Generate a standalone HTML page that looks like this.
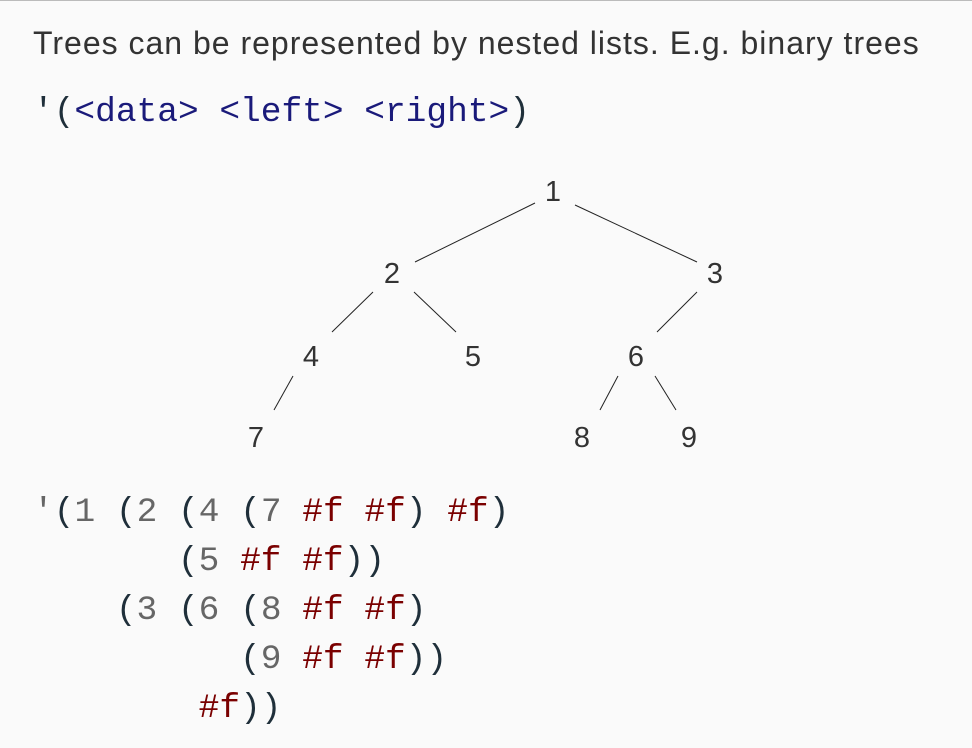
<!DOCTYPE html>
<html><head><style>
body{margin:0;width:972px;height:748px;background:#fafafa;overflow:hidden;position:relative;font-family:"Liberation Sans",sans-serif}
.top{position:absolute;left:0;top:0;width:972px;height:1px;background:#bbb}
.t{position:absolute;left:33px;top:25px;font-size:32px;color:#333;white-space:nowrap;letter-spacing:1.0px}
.m{position:absolute;left:33px;font-family:"Liberation Mono",monospace;font-size:34.5px;white-space:pre;color:#1f2f3a}
.b{color:#1a1a7a}.g{color:#666}.r{color:#7a0000}
</style></head><body>
<div class="top"></div>
<div class="t">Trees can be represented by nested lists. E.g. binary trees</div>
<div class="m" style="top:93px">'(<span class="b">&lt;data&gt; &lt;left&gt; &lt;right&gt;</span>)</div>
<svg width="972" height="748" style="position:absolute;left:0;top:0" font-family="Liberation Sans,sans-serif" font-size="29" fill="#333" text-anchor="middle">
<g stroke="#222" stroke-width="1">
<line x1="535" y1="203" x2="415" y2="262"/><line x1="575" y1="205" x2="697" y2="262"/>
<line x1="373" y1="292" x2="332" y2="332"/><line x1="414" y1="292" x2="456" y2="332"/>
<line x1="697" y1="292" x2="657" y2="332"/><line x1="293" y1="376" x2="274" y2="410"/>
<line x1="618" y1="376" x2="600" y2="410"/><line x1="655" y1="376" x2="676" y2="410"/>
</g>
<text x="553" y="201">1</text><text x="392" y="283">2</text><text x="715" y="283">3</text>
<text x="311" y="366">4</text><text x="473" y="366">5</text><text x="636" y="366">6</text>
<text x="256" y="447">7</text><text x="582" y="447">8</text><text x="689" y="447">9</text>
</svg>
<div class="m" style="top:488px;line-height:49px"><span class="g">'</span>(<span class="g">1</span> (<span class="g">2</span> (<span class="g">4</span> (<span class="g">7</span> <span class="r">#f</span> <span class="r">#f</span>) <span class="r">#f</span>)
       (<span class="g">5</span> <span class="r">#f</span> <span class="r">#f</span>))
    (<span class="g">3</span> (<span class="g">6</span> (<span class="g">8</span> <span class="r">#f</span> <span class="r">#f</span>)
          (<span class="g">9</span> <span class="r">#f</span> <span class="r">#f</span>))
        <span class="r">#f</span>))</div>
</body></html>
